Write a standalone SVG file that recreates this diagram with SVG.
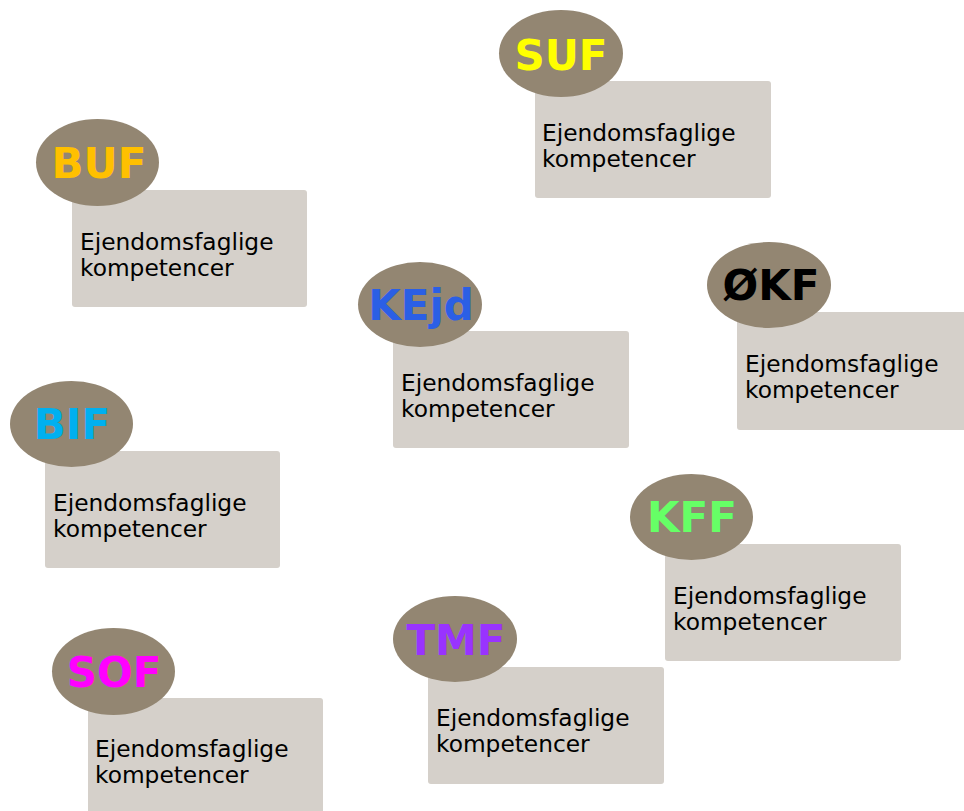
<svg xmlns="http://www.w3.org/2000/svg" width="964" height="811" viewBox="0 0 964 811">
<style>
.box{fill:#D5D0CA}
.oval{fill:#938672}
.body{font-family:"DejaVu Sans","Verdana",sans-serif;font-size:23.3px;fill:#000}
.lbl{font-family:"DejaVu Sans","Verdana",sans-serif;font-size:42px;font-weight:bold;text-anchor:middle}
</style>
<rect width="964" height="811" fill="#fff"/>
<g id="connectors"></g>
<g id="SUF">
<rect class="box" x="535" y="81" width="236" height="117" rx="3"/>
<ellipse class="oval" cx="561" cy="53.5" rx="62" ry="43.5"/>
<text class="lbl" x="561" y="70" fill="#FFFF00">SUF</text>
<text class="body" x="542" y="141">Ejendomsfaglige</text>
<text class="body" x="542" y="167">kompetencer</text>
</g>
<g id="BUF">
<rect class="box" x="72" y="190" width="235" height="117" rx="3"/>
<ellipse class="oval" cx="97.5" cy="162.5" rx="61.5" ry="43.5"/>
<text class="lbl" x="99" y="178" fill="#FFC000">BUF</text>
<text class="body" x="80" y="250">Ejendomsfaglige</text>
<text class="body" x="80" y="276">kompetencer</text>
</g>
<g id="KEjd">
<rect class="box" x="393" y="331" width="236" height="117" rx="3"/>
<ellipse class="oval" cx="420" cy="304.5" rx="62" ry="42.5"/>
<text class="lbl" x="421" y="320" fill="#2B5FE5">KEjd</text>
<text class="body" x="401" y="391">Ejendomsfaglige</text>
<text class="body" x="401" y="417">kompetencer</text>
</g>
<g id="OKF">
<rect class="box" x="737" y="312" width="240" height="118" rx="3"/>
<ellipse class="oval" cx="769" cy="285" rx="62" ry="43"/>
<text class="lbl" x="771" y="300" fill="#000000">ØKF</text>
<text class="body" x="745" y="372">Ejendomsfaglige</text>
<text class="body" x="745" y="398">kompetencer</text>
</g>
<g id="BIF">
<rect class="box" x="45" y="451" width="235" height="117" rx="3"/>
<ellipse class="oval" cx="71.5" cy="424" rx="61.5" ry="43"/>
<text class="lbl" x="72" y="439" fill="#00B0F0">BIF</text>
<text class="body" x="53" y="511">Ejendomsfaglige</text>
<text class="body" x="53" y="537">kompetencer</text>
</g>
<g id="KFF">
<rect class="box" x="665" y="544" width="236" height="117" rx="3"/>
<ellipse class="oval" cx="691.5" cy="517" rx="61.5" ry="43"/>
<text class="lbl" x="692" y="532" fill="#66FF66">KFF</text>
<text class="body" x="673" y="604">Ejendomsfaglige</text>
<text class="body" x="673" y="630">kompetencer</text>
</g>
<g id="TMF">
<rect class="box" x="428" y="667" width="236" height="117" rx="3"/>
<ellipse class="oval" cx="455" cy="639" rx="62" ry="43"/>
<text class="lbl" x="456" y="655" fill="#9933FF">TMF</text>
<text class="body" x="436" y="726">Ejendomsfaglige</text>
<text class="body" x="436" y="752">kompetencer</text>
</g>
<g id="SOF">
<rect class="box" x="88" y="698" width="235" height="125" rx="3"/>
<ellipse class="oval" cx="113.5" cy="671.5" rx="61.5" ry="43.5"/>
<text class="lbl" x="114" y="687" fill="#FF00FF">SOF</text>
<text class="body" x="95" y="757">Ejendomsfaglige</text>
<text class="body" x="95" y="783">kompetencer</text>
</g>
</svg>
